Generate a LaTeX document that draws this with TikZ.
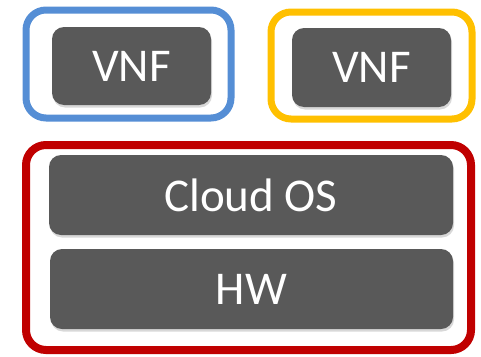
\documentclass[tikz,border=0pt]{standalone}
\usepackage{fontspec}
\setmainfont{Carlito}
\usepackage{xcolor}
\usetikzlibrary{positioning,shadows}
\definecolor{boxgray}{RGB}{89,89,89}
\definecolor{vnfblue}{RGB}{85,142,213}
\definecolor{vnfyellow}{RGB}{255,192,0}
\definecolor{osred}{RGB}{192,0,0}
\tikzset{
	layer/.style={fill=boxgray,rounded corners=12pt,inner sep=0pt,text=white,
		font=\fontsize{47}{52}\selectfont,
		drop shadow={opacity=0.3,shadow xshift=1pt,shadow yshift=-2.5pt}},
	frame/.style={draw=#1,line width=7pt,rounded corners=20pt,inner sep=0pt,fill=white,
		drop shadow={opacity=0.25,shadow xshift=1pt,shadow yshift=-2.5pt}}
}

\begin{document}
\begin{tikzpicture}[x=1pt,y=-1pt]
		\useasboundingbox (0,0) rectangle (481,356);
		% frames
		\node[frame=vnfblue,minimum width=205pt,minimum height=108pt] (frameA) at (128.5,64) {};
		\node[frame=vnfyellow,minimum width=201pt,minimum height=107pt] (frameB) at (371.5,65.5) {};
		\node[frame=osred,line width=8pt,minimum width=445pt,minimum height=205pt] (frameC) at (248.5,247.5) {};
		% layers
		\node[layer,minimum width=159pt,minimum height=78pt] (vnfA) at (131.5,66) {VNF};
		\node[layer,minimum width=159pt,minimum height=79pt] (vnfB) at (371.5,67.5) {VNF};
		\node[layer,minimum width=404pt,minimum height=80pt] (cloudos) at (251,195) {Cloud OS};
		\node[layer,minimum width=403pt,minimum height=80pt] (hw) at (251.5,289) {HW};
\end{tikzpicture}
\end{document}
